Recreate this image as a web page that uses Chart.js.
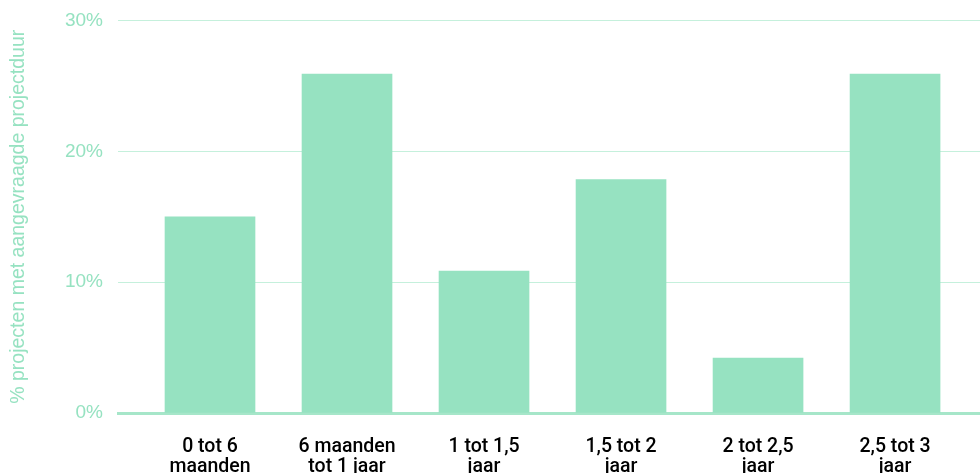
<!DOCTYPE html>
<html>
<head>
<meta charset="utf-8">
<script src="https://cdn.jsdelivr.net/npm/chart.js@4"></script>
<style>
  html, body { margin: 0; padding: 0; background: #fff; }
  #wrap { width: 980px; height: 473px; position: relative; overflow: hidden; }
</style>
</head>
<body>
<div id="wrap"><canvas id="barChart"></canvas></div>
<script>
// categories (tick labels, two lines each)
const categories = [
  ['0 tot 6', 'maanden'],
  ['6 maanden', 'tot 1 jaar'],
  ['1 tot 1,5', 'jaar'],
  ['1,5 tot 2', 'jaar'],
  ['2 tot 2,5', 'jaar'],
  ['2,5 tot 3', 'jaar']
];
// % projecten per category
const percentages = [15, 25.9, 10.85, 17.85, 4.2, 25.9];
const yTicks = [0, 10, 20, 30];

const green = '#96e2c1';
const fontFamily = "'Helvetica Neue', Helvetica, 'Liberation Sans', Arial, sans-serif";

const ctx = document.getElementById('barChart');

new Chart(ctx, {
  type: 'bar',
  data: {
    datasets: [{
      data: percentages.map((v, i) => ({ x: i, y: v })),
      backgroundColor: green,
      borderWidth: 0,
      barThickness: 90
    }]
  },
  options: {
    responsive: true,
    maintainAspectRatio: false,
    animation: false,
    layout: { padding: { top: 20.5, right: 0, bottom: 0, left: 0 } },
    plugins: {
      legend: { display: false },
      tooltip: { enabled: false }
    },
    scales: {
      x: {
        type: 'linear',
        offset: false,
        // the picture is cut off on the right, so the axis runs past the last bar
        min: -0.6715,
        max: 5.62,
        afterBuildTicks: (scale) => { scale.ticks = categories.map((c, i) => ({ value: i })); },
        grid: { display: false, drawTicks: false },
        border: { display: true, color: '#a6e6c9', width: 3 },
        ticks: {
          autoSkip: false,
          maxRotation: 0,
          padding: 23.5,
          color: '#000',
          font: { family: "Roboto, " + fontFamily, size: 19.5, weight: 500, lineHeight: 1.05 },
          callback: (value) => categories[value] || ''
        },
        afterFit: (scale) => { scale.height = 60; }
      },
      y: {
        min: 0,
        max: 30,
        afterBuildTicks: (scale) => { scale.ticks = yTicks.map(v => ({ value: v })); },
        grid: { color: '#c5f0dc', lineWidth: 1, drawTicks: false },
        border: { display: false },
        ticks: {
          padding: 15,
          color: green,
          font: { family: fontFamily, size: 19 },
          callback: (value) => value + '%'
        },
        title: {
          display: true,
          text: '% projecten met aangevraagde projectduur',
          color: green,
          padding: { top: 7, bottom: 0 },
          font: { family: fontFamily, size: 19.5 }
        },
        afterFit: (scale) => {
          scale.width = 118;
          // keep the tick padding from pushing the plot down
          scale.paddingTop = 0;
          scale.paddingBottom = 0;
        }
      }
    }
  }
});
</script>
</body>
</html>
